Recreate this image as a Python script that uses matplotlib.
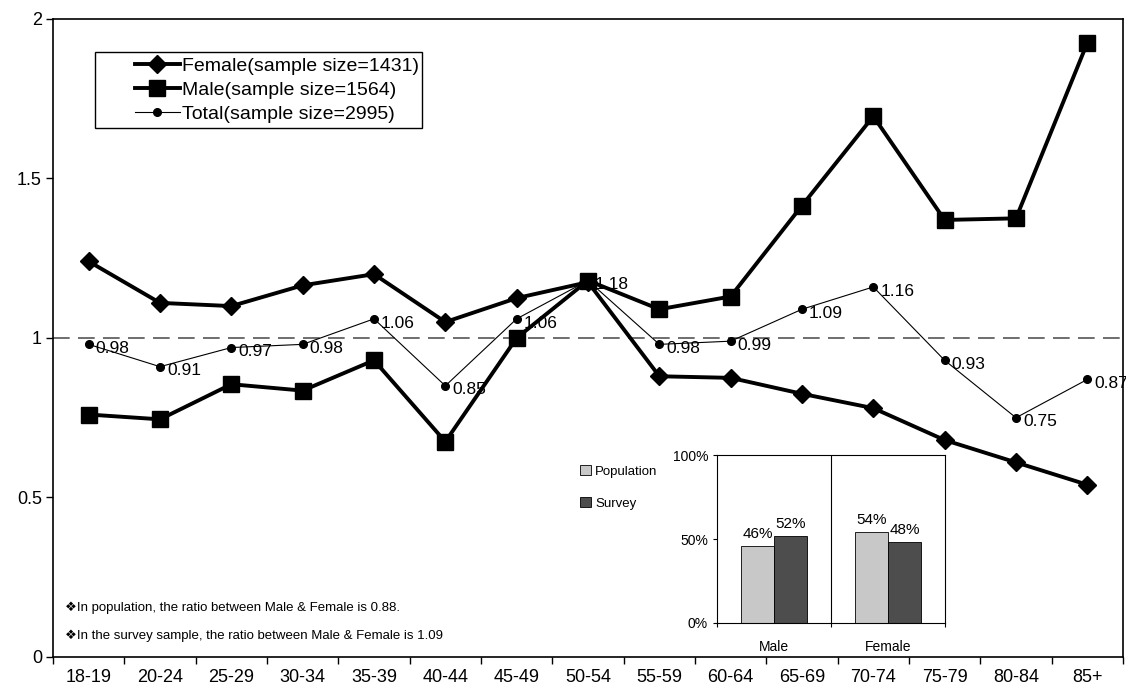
import numpy as np
import matplotlib.pyplot as plt
from matplotlib.patches import Rectangle

plt.rcParams['font.family'] = ['Liberation Sans', 'DejaVu Sans']

# data
ages = ['18-19', '20-24', '25-29', '30-34', '35-39', '40-44', '45-49', '50-54',
        '55-59', '60-64', '65-69', '70-74', '75-79', '80-84', '85+']
female = [1.24, 1.11, 1.10, 1.165, 1.20, 1.05, 1.125, 1.175,
          0.88, 0.875, 0.825, 0.78, 0.68, 0.61, 0.54]
male = [0.76, 0.745, 0.855, 0.835, 0.93, 0.675, 1.00, 1.18,
        1.09, 1.13, 1.415, 1.695, 1.37, 1.375, 1.925]
total = [0.98, 0.91, 0.97, 0.98, 1.06, 0.85, 1.06, 1.18,
         0.98, 0.99, 1.09, 1.16, 0.93, 0.75, 0.87]

# inset data
sexes = ['Male', 'Female']
population = [46, 54]
survey = [52, 48]

notes = ['\u2756In population, the ratio between Male & Female is 0.88.',
         '\u2756In the survey sample, the ratio between Male & Female is 1.09']

fig = plt.figure(figsize=(11.26, 6.95), dpi=100)
ax = fig.add_axes([0.0471, 0.0547, 0.9502, 0.918])

x = np.arange(len(ages))

# reference line at 1
ax.axhline(1, color='#555555', lw=1.2, ls=(0, (10, 5)), zorder=1)

ax.plot(x, female, c='k', lw=2.8, marker='D', ms=9, label='Female(sample size=1431)', zorder=3)
ax.plot(x, male, c='k', lw=2.8, marker='s', ms=12, label='Male(sample size=1564)', zorder=3)
ax.plot(x, total, c='k', lw=0.8, marker='o', ms=5.5, label='Total(sample size=2995)', zorder=3)

# value labels for the total line
for xi, v in zip(x, total):
    ax.annotate('%.2f' % v, (xi, v), xytext=(5, -3), textcoords='offset points',
                ha='left', va='center', fontsize=12.5, zorder=4)

ax.set_xlim(-0.5, len(ages) - 0.5)
ax.set_ylim(0, 2)
ax.set_yticks([0, 0.5, 1, 1.5, 2])
ax.set_yticklabels(['0', '0.5', '1', '1.5', '2'])
ax.set_xticks(np.arange(len(ages) + 1) - 0.5)
ax.set_xticklabels([])
ax.set_xticks(x, minor=True)
ax.set_xticklabels(ages, minor=True)
ax.tick_params(axis='x', which='major', direction='out', length=5, width=1)
ax.tick_params(axis='x', which='minor', length=0, pad=9, labelsize=13)
ax.tick_params(axis='y', direction='out', length=5, width=1, labelsize=13, pad=3)
for s in ax.spines.values():
    s.set_linewidth(1.2)

# legend box drawn separately (Excel style: wide padding on the left)
ax.add_patch(Rectangle((0.0393, 0.829), 0.3056, 0.119, transform=ax.transAxes,
                       fill=False, ec='k', lw=1.0, zorder=5))
ax.legend(loc='upper left', bbox_to_anchor=(0.0766, 0.94), borderaxespad=0,
          fontsize=14, frameon=False, handlelength=2.3, handletextpad=0.1,
          labelspacing=0.32, borderpad=0)

# notes in lower left
fig.text(0.0577, 0.121, notes[0], fontsize=9.5)
fig.text(0.0577, 0.081, notes[1], fontsize=9.5)

# inset bar chart
ins = fig.add_axes([0.6368, 0.1036, 0.2025, 0.2417])
xb = np.arange(len(sexes))
w = 0.29
b1 = ins.bar(xb - w / 2, population, w, color='#c8c8c8', edgecolor='k', lw=0.6, label='Population')
b2 = ins.bar(xb + w / 2, survey, w, color='#4d4d4d', edgecolor='k', lw=0.6, label='Survey')
for rect, v in zip(list(b1) + list(b2), population + survey):
    ins.text(rect.get_x() + rect.get_width() / 2, v + 3, '%d%%' % v,
             ha='center', va='bottom', fontsize=11)
ins.set_xlim(-0.5, 1.5)
ins.set_ylim(0, 100)
ins.set_yticks([0, 50, 100])
ins.set_yticklabels(['0%', '50%', '100%'])
ins.set_xticks([-0.5, 0.5, 1.5])
ins.set_xticklabels([])
ins.set_xticks(xb, minor=True)
ins.set_xticklabels(sexes, minor=True)
ins.tick_params(axis='x', which='major', length=3, width=0.8)
ins.tick_params(axis='x', which='minor', length=0, pad=12, labelsize=10)
ins.tick_params(axis='y', length=3, width=0.8, labelsize=10)
ins.axvline(0.5, color='k', lw=0.8)
for s in ins.spines.values():
    s.set_linewidth(0.8)

ins.legend(loc='upper left', bbox_to_anchor=(0.5155, 0.331), bbox_transform=fig.transFigure,
           frameon=False, fontsize=9.5, handlelength=0.8, handleheight=0.8,
           handletextpad=0.3, labelspacing=1.5, borderaxespad=0, borderpad=0)

fig.savefig('out.png', dpi=100)
